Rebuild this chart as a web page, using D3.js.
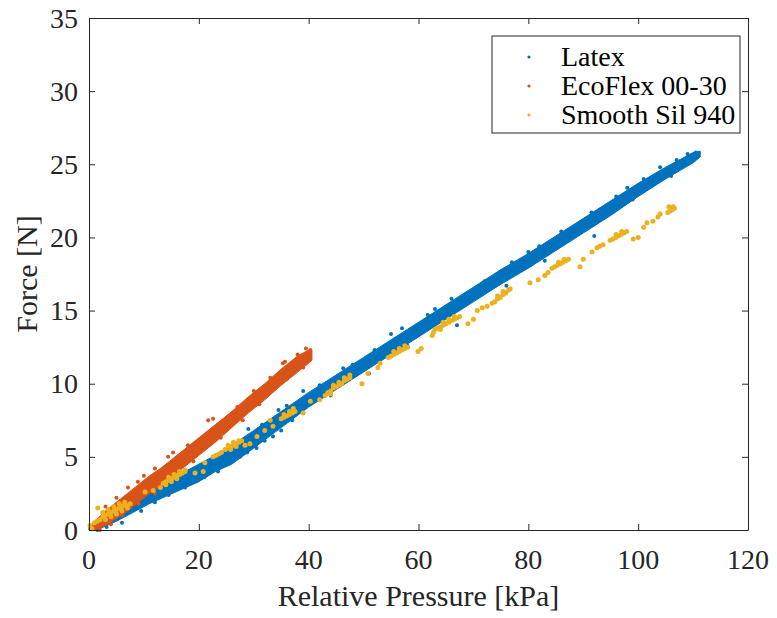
<!DOCTYPE html>
<html>
<head>
<meta charset="utf-8">
<script src="https://cdn.jsdelivr.net/npm/d3@7"></script>
<style>
  body { margin: 0; background: #fff; }
</style>
</head>
<body>
<svg width="777" height="618"></svg>
<script>
const svg = d3.select('svg');
const width = +svg.attr('width');
const height = +svg.attr('height');
const serif = 'Liberation Serif';

const seriesNames = ['Latex', 'EcoFlex 00-30', 'Smooth Sil 940'];
const colors = ['#0072BD', '#D95319', '#EDB120'];
const xTicks = [0, 20, 40, 60, 80, 100, 120];
const yTicks = [0, 5, 10, 15, 20, 25, 30, 35];

// Latex: dense band (lower / upper edge) plus loose dots
const latexX    = [0, 2, 5, 8, 11, 14, 17, 20, 23, 26, 30, 35, 40, 45, 50, 55, 60, 65, 70, 75, 80, 85, 90, 95, 100, 105, 110, 111.3];
const latexLow  = [0.0, 0.1, 0.6, 1.2, 1.8, 2.3, 2.8, 3.3, 4.0, 4.5, 5.6, 7.0, 8.4, 9.6, 10.8, 12.0, 13.2, 14.4, 15.6, 16.8, 17.9, 19.1, 20.3, 21.5, 22.8, 24.0, 25.1, 25.5];
const latexHigh = [0.2, 0.7, 1.3, 2.0, 2.6, 3.2, 3.9, 4.5, 5.1, 5.8, 6.8, 8.1, 9.4, 10.6, 11.8, 13.0, 14.2, 15.4, 16.6, 17.8, 18.9, 20.1, 21.3, 22.5, 23.7, 24.8, 25.8, 25.9];
const latexDots = [
  [3.2, 0.2], [1.5, 0.0], [6, 0.5], [9.5, 1.3], [12, 1.9], [13.2, 2.6], [14.5, 2.4], [16, 3.0],
  [17.5, 2.9], [19, 3.3], [21, 3.6], [22.6, 4.2], [23.5, 4.0], [24.5, 4.4], [25.5, 4.6], [26.5, 4.8],
  [27.5, 5.0], [28.8, 5.3], [24, 5.0], [25.7, 5.2], [30.5, 5.6], [32, 6.1], [33.5, 6.4], [35, 6.8],
  [37, 7.5], [29, 6.9], [31.5, 7.2], [34.5, 8.2], [36, 8.5], [39, 9.5], [42, 9.9], [46.3, 11.05],
  [48, 11.3], [52, 12.3], [55, 13.4], [57, 13.8], [61.7, 14.7], [63, 15.1], [66, 15.8], [68.5, 16.1],
  [72, 17.0], [74, 17.2], [77, 18.3], [80, 19.0], [82, 19.4], [86, 20.4], [88, 20.6], [91.5, 21.7],
  [93, 21.9], [96, 22.8], [98, 23.4], [101, 24.0], [104, 24.8], [107, 25.3], [109, 25.7], [110.5, 25.8],
  [44, 9.2], [51, 10.7], [58, 12.6], [67, 14.0], [76, 16.7], [83, 18.4], [92, 20.1], [99, 22.6], [106, 24.2]
];

// EcoFlex 00-30
const ecoX    = [0, 1, 3, 5, 7, 9, 11, 13, 15, 17, 20, 23, 26, 29, 32, 35, 38, 40, 40.6];
const ecoLow  = [0.0, 0.0, 0.3, 0.8, 1.3, 1.9, 2.5, 3.0, 3.6, 4.2, 5.1, 6.0, 7.0, 8.0, 8.9, 9.9, 10.8, 11.4, 11.6];
const ecoHigh = [0.2, 0.6, 1.3, 1.9, 2.5, 3.1, 3.7, 4.2, 4.8, 5.4, 6.3, 7.2, 8.1, 9.1, 10.0, 11.0, 11.9, 12.3, 12.3];
const ecoDots = [
  [7.1, 2.9], [8.9, 3.3], [14.4, 5.0], [15.3, 5.3], [21.7, 7.5], [22.6, 7.6], [35.3, 11.4], [35.7, 11.5],
  [3, 1.6], [5, 2.2], [10, 3.7], [12, 4.2], [18, 5.8], [27, 8.4], [30, 9.5], [33, 10.4], [38, 12.0],
  [39.5, 12.4], [40.3, 12.3], [2, 0.0], [4, 0.4], [6, 1.0], [9, 1.8], [12, 2.5], [16, 3.6], [19, 4.7],
  [24, 6.3], [28, 7.5], [31, 8.6], [36, 10.3], [39, 11.1]
];

// Smooth Sil 940: clumps and loose points
const silDots = [
  [0.2, 0.3], [0.5, 0.1], [1, 0.5], [1.5, 0.6], [1.6, 1.5],
  [2, 0.7], [2.5, 0.9], [3, 1.0], [3.5, 1.1], [4, 1.2], [4.5, 1.3], [5, 1.4], [5.5, 1.5], [6, 1.6],
  [6.5, 1.7], [7, 1.7], [7.5, 1.8], [2.5, 1.2], [3.5, 1.4], [4.5, 1.6], [5.5, 1.8], [6.5, 1.9],
  [3, 0.7], [4, 0.9], [5, 1.1], [6, 1.3], [7, 1.5],
  [10.2, 2.6], [11.7, 2.7], [13, 2.9], [13.8, 3.2],
  [13.5, 3.2], [14, 3.3], [14.5, 3.4], [15, 3.5], [15.5, 3.6], [16, 3.7], [16.5, 3.8], [17, 3.9],
  [17.5, 4.0], [14.5, 3.6], [15.5, 3.8], [16.5, 4.0], [17.5, 4.1], [14, 3.1], [15, 3.3], [16, 3.5],
  [19.3, 3.9], [20.8, 4.0], [21.1, 4.6],
  [22.6, 5.0], [23.1, 5.1], [23.6, 5.2], [24.1, 5.3],
  [24.8, 5.5], [25.3, 5.6], [25.8, 5.7], [26.3, 5.8], [26.8, 5.9], [27.3, 6.0], [27.8, 6.1],
  [25.3, 5.8], [26.3, 6.0], [27.3, 6.1], [25.8, 5.5], [26.8, 5.7],
  [28.4, 5.8], [29.3, 5.9], [30.6, 6.4], [32, 6.8], [33.5, 7.1], [33, 7.5],
  [35, 7.6], [35.5, 7.7], [36, 7.8], [36.5, 7.9], [37, 8.0], [37.5, 8.1], [35.5, 7.9], [36.5, 8.1], [37.2, 8.3],
  [39, 8.0], [40.3, 8.8], [42, 8.9], [43, 9.2],
  [43.5, 9.4], [44, 9.5], [44.5, 9.7], [45, 9.8], [45.5, 9.9], [46, 10.0], [46.5, 10.2], [47, 10.3],
  [47.5, 10.4], [44.5, 9.9], [45.5, 10.1], [46.5, 10.4], [47.5, 10.6], [44, 9.3],
  [49.7, 10.0], [50.8, 10.7], [52.6, 11.1], [53, 11.4],
  [54.5, 11.8], [55, 11.9], [55.5, 12.0], [56, 12.1], [56.5, 12.2], [57, 12.3], [57.5, 12.4], [58, 12.5],
  [55.5, 12.2], [56.5, 12.4], [57.5, 12.6],
  [59.9, 12.2], [60.5, 12.4], [62.5, 13.3], [62.7, 13.5],
  [63, 13.7], [63.5, 13.8], [64, 13.9], [64.5, 14.0], [65, 14.1], [65.5, 14.2], [66, 14.3], [66.5, 14.4],
  [67, 14.5], [67.5, 14.6], [64.5, 14.2], [65.5, 14.4], [66.5, 14.6], [64, 13.7],
  [69, 14.1], [70, 14.4], [70.7, 15.0], [71.6, 15.2], [72.5, 15.3],
  [73.4, 15.5], [73.9, 15.6], [74.4, 15.8], [74.9, 15.9], [75.4, 16.1], [75.9, 16.2], [76.4, 16.4],
  [76.7, 16.5], [74.4, 16.0], [75.4, 16.3],
  [80.3, 16.9], [81.8, 17.1], [83, 17.4], [83.6, 17.6],
  [84.3, 17.9], [84.8, 18.0], [85.3, 18.1], [85.8, 18.2], [86.3, 18.3], [86.8, 18.4], [87.3, 18.5],
  [85.5, 18.3], [86.5, 18.5],
  [89.4, 18.0], [90, 18.5], [91.6, 19.0], [92.5, 19.3], [93, 19.4], [93.6, 19.5],
  [94.9, 19.8], [95.4, 19.9], [95.9, 20.0], [96.4, 20.1], [96.9, 20.2], [97.4, 20.3], [97.9, 20.4],
  [96, 20.2], [97, 20.4],
  [99.1, 19.9], [100, 20.0], [101, 20.7], [101.6, 21.0], [102.7, 21.1], [103.6, 21.4], [104, 21.6],
  [105.4, 21.7], [105.8, 21.8], [106.2, 21.9], [106.6, 22.0], [105.6, 22.1], [106.4, 22.1]
];

const margin = { top: 18, right: 29, bottom: 88, left: 89 };
const innerWidth = width - margin.left - margin.right;
const innerHeight = height - margin.top - margin.bottom;

const xScale = d3.scaleLinear().domain([0, 120]).range([margin.left, margin.left + innerWidth]);
const yScale = d3.scaleLinear().domain([0, 35]).range([margin.top + innerHeight, margin.top]);

const band = d3.area()
  .x(d => xScale(d[0]))
  .y0(d => yScale(d[1]))
  .y1(d => yScale(d[2]));

const drawSeries = (xs, lo, hi, dots, color, r) => {
  if (xs) {
    svg.append('path')
      .datum(xs.map((x, i) => [x, lo[i], hi[i]]))
      .attr('d', band)
      .attr('fill', color)
      .attr('stroke', color)
      .attr('stroke-width', 1)
      .attr('stroke-linejoin', 'round');
  }
  svg.append('g').selectAll('circle').data(dots)
    .enter().append('circle')
      .attr('cx', d => xScale(d[0]))
      .attr('cy', d => yScale(d[1]))
      .attr('r', r)
      .attr('fill', color);
};

drawSeries(latexX, latexLow, latexHigh, latexDots, colors[0], 2);
drawSeries(ecoX, ecoLow, ecoHigh, ecoDots, colors[1], 2);
drawSeries(null, null, null, silDots, colors[2], 2.5);

// axes, MATLAB style: inward ticks, box on (lines from d3 axes, labels as plain svg text)
const styleAxis = sel => {
  sel.selectAll('.domain').attr('stroke', '#262626').attr('fill', 'none');
  sel.selectAll('.tick line').attr('stroke', '#262626');
};

svg.append('g')
  .attr('transform', `translate(0,${margin.top + innerHeight})`)
  .call(d3.axisBottom(xScale).tickValues(xTicks).tickSizeInner(-6).tickSizeOuter(0).tickFormat(''))
  .call(styleAxis);
svg.append('g')
  .attr('transform', `translate(${margin.left},0)`)
  .call(d3.axisLeft(yScale).tickValues(yTicks).tickSizeInner(-6).tickSizeOuter(0).tickFormat(''))
  .call(styleAxis);
svg.append('g')
  .attr('transform', `translate(0,${margin.top})`)
  .call(d3.axisTop(xScale).tickValues(xTicks).tickSizeInner(-6).tickSizeOuter(0).tickFormat(''))
  .call(styleAxis);
svg.append('g')
  .attr('transform', `translate(${margin.left + innerWidth},0)`)
  .call(d3.axisRight(yScale).tickValues(yTicks).tickSizeInner(-6).tickSizeOuter(0).tickFormat(''))
  .call(styleAxis);

svg.selectAll('text.xtick').data(xTicks)
  .enter().append('text')
    .attr('class', 'xtick')
    .attr('x', d => xScale(d))
    .attr('y', margin.top + innerHeight + 39)
    .attr('text-anchor', 'middle')
    .attr('font-family', serif)
    .attr('font-size', 28)
    .attr('fill', '#262626')
    .text(d => d);

svg.selectAll('text.ytick').data(yTicks)
  .enter().append('text')
    .attr('class', 'ytick')
    .attr('x', margin.left - 11)
    .attr('y', d => yScale(d) + 9.5)
    .attr('text-anchor', 'end')
    .attr('font-family', serif)
    .attr('font-size', 28)
    .attr('fill', '#262626')
    .text(d => d);

// axis labels
svg.append('text')
  .attr('x', margin.left + innerWidth / 2)
  .attr('y', 606)
  .attr('text-anchor', 'middle')
  .attr('font-family', serif)
  .attr('font-size', 30)
  .attr('fill', '#262626')
  .text('Relative Pressure [kPa]');

svg.append('text')
  .attr('transform', `translate(37,${margin.top + innerHeight / 2}) rotate(-90)`)
  .attr('text-anchor', 'middle')
  .attr('font-family', serif)
  .attr('font-size', 30)
  .attr('fill', '#262626')
  .text('Force [N]');

// legend
const legendX = 492, legendY = 36;
svg.append('rect')
  .attr('x', legendX).attr('y', legendY)
  .attr('width', 248).attr('height', 97)
  .attr('fill', '#fff').attr('stroke', '#262626').attr('stroke-width', 1);

svg.selectAll('circle.key').data(seriesNames)
  .enter().append('circle')
    .attr('class', 'key')
    .attr('cx', legendX + 37)
    .attr('cy', (d, i) => legendY + 21 + i * 29)
    .attr('r', 1.6)
    .attr('fill', (d, i) => colors[i]);

svg.selectAll('text.key').data(seriesNames)
  .enter().append('text')
    .attr('class', 'key')
    .attr('x', legendX + 69)
    .attr('y', (d, i) => legendY + 30 + i * 29)
    .attr('font-family', serif)
    .attr('font-size', 28)
    .attr('fill', '#000')
    .text(d => d);
</script>
</body>
</html>
